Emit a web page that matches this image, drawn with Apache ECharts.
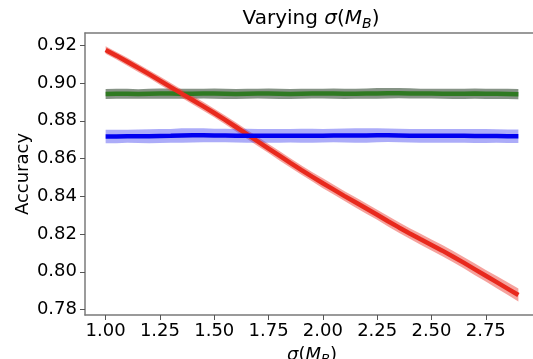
<!DOCTYPE html>
<html>
<head>
<meta charset="utf-8">
<script src="https://cdn.jsdelivr.net/npm/echarts@6/dist/echarts.min.js"></script>
<style>
  html, body { margin: 0; padding: 0; background: #fff; overflow: hidden; }
  #chart { width: 533px; height: 359px; }
</style>
</head>
<body>
<div id="chart"></div>
<script>
// sigma(M_B) values on the x axis
const sigmas = [1.00, 1.05, 1.10, 1.15, 1.20, 1.25, 1.30, 1.35, 1.40, 1.45,
  1.50, 1.55, 1.60, 1.65, 1.70, 1.75, 1.80, 1.85, 1.90, 1.95,
  2.00, 2.05, 2.10, 2.15, 2.20, 2.25, 2.30, 2.35, 2.40, 2.45,
  2.50, 2.55, 2.60, 2.65, 2.70, 2.75, 2.80, 2.85, 2.90];

// mean accuracy per series
const redAcc = [0.9175, 0.9145, 0.9113, 0.9080, 0.9047, 0.9013, 0.8978, 0.8944, 0.8910, 0.8876,
  0.8841, 0.8805, 0.8767, 0.8729, 0.8691, 0.8653, 0.8615, 0.8577, 0.8540, 0.8504,
  0.8469, 0.8435, 0.8401, 0.8368, 0.8335, 0.8302, 0.8268, 0.8235, 0.8203, 0.8172,
  0.8142, 0.8112, 0.8080, 0.8047, 0.8013, 0.7979, 0.7945, 0.7911, 0.7877];
const greenAcc = [0.8942, 0.8943, 0.8943, 0.8942, 0.8943, 0.8944, 0.8944, 0.8943, 0.8943, 0.8944,
  0.8944, 0.8943, 0.8942, 0.8943, 0.8944, 0.8944, 0.8943, 0.8942, 0.8943, 0.8944,
  0.8944, 0.8944, 0.8943, 0.8943, 0.8944, 0.8945, 0.8946, 0.8946, 0.8945, 0.8944,
  0.8944, 0.8943, 0.8943, 0.8943, 0.8944, 0.8943, 0.8943, 0.8942, 0.8941];
const blueAcc = [0.8717, 0.8717, 0.8718, 0.8718, 0.8718, 0.8719, 0.8720, 0.8722, 0.8723, 0.8723,
  0.8722, 0.8722, 0.8721, 0.8721, 0.8720, 0.8720, 0.8720, 0.8721, 0.8721, 0.8721,
  0.8721, 0.8722, 0.8722, 0.8722, 0.8722, 0.8723, 0.8723, 0.8722, 0.8721, 0.8720,
  0.8720, 0.8720, 0.8720, 0.8720, 0.8719, 0.8719, 0.8719, 0.8718, 0.8718];

// half-width of the shaded spread around each series
const redSpread = [0.0020, 0.0020, 0.0021, 0.0021, 0.0021, 0.0022, 0.0022, 0.0022, 0.0023, 0.0023,
  0.0023, 0.0023, 0.0024, 0.0024, 0.0024, 0.0024, 0.0025, 0.0025, 0.0025, 0.0025,
  0.0026, 0.0026, 0.0026, 0.0027, 0.0027, 0.0027, 0.0028, 0.0028, 0.0028, 0.0029,
  0.0029, 0.0030, 0.0030, 0.0030, 0.0031, 0.0031, 0.0032, 0.0033, 0.0034];
const greenSpread = [0.0026, 0.0026, 0.0026, 0.0025, 0.0026, 0.0027, 0.0027, 0.0026, 0.0026, 0.0026,
  0.0027, 0.0027, 0.0026, 0.0026, 0.0026, 0.0027, 0.0027, 0.0026, 0.0026, 0.0026,
  0.0026, 0.0027, 0.0027, 0.0026, 0.0027, 0.0028, 0.0028, 0.0027, 0.0027, 0.0026,
  0.0026, 0.0026, 0.0027, 0.0027, 0.0027, 0.0027, 0.0027, 0.0027, 0.0027];
const blueSpread = [0.0036, 0.0036, 0.0035, 0.0036, 0.0037, 0.0037, 0.0037, 0.0038, 0.0038, 0.0037,
  0.0036, 0.0036, 0.0036, 0.0037, 0.0037, 0.0036, 0.0036, 0.0036, 0.0037, 0.0037,
  0.0036, 0.0036, 0.0037, 0.0038, 0.0038, 0.0037, 0.0036, 0.0036, 0.0036, 0.0037,
  0.0037, 0.0036, 0.0036, 0.0036, 0.0037, 0.0037, 0.0036, 0.0036, 0.0036];

const xTicks = [1.00, 1.25, 1.50, 1.75, 2.00, 2.25, 2.50, 2.75];
const yTicks = [0.78, 0.80, 0.82, 0.84, 0.86, 0.88, 0.90, 0.92];

const FONT = "DejaVu Sans";
const SPINE = "#7a7a7a";
const mathRich = (size) => ({
  a: { fontFamily: FONT, fontSize: size, fontWeight: "normal", color: "#000", lineHeight: size + 4 },
  i: { fontFamily: FONT, fontSize: size, fontWeight: "normal", fontStyle: "italic", color: "#000", lineHeight: size + 4 },
  s: { fontFamily: FONT, fontSize: Math.round(size * 0.7), fontWeight: "normal", fontStyle: "italic", color: "#000",
       verticalAlign: "bottom", lineHeight: Math.round(size * 0.7) },
});

// shaded band drawn once as a polygon through the axis scales
function band(name, mean, spread, fill) {
  return {
    name: name + "-band", type: "custom", silent: true,
    data: sigmas.map((x, i) => [x, mean[i] - spread[i], mean[i] + spread[i]]),
    encode: { x: 0, y: [1, 2] },
    renderItem: (params, api) => {
      if (params.dataIndexInside !== 0) return null;
      const upper = sigmas.map((x, i) => api.coord([x, mean[i] + spread[i]]));
      const lower = sigmas.map((x, i) => api.coord([x, mean[i] - spread[i]])).reverse();
      return {
        type: "polygon",
        shape: { points: upper.concat(lower) },
        style: { fill },
      };
    },
  };
}

function meanLine(name, mean, color) {
  return {
    name, type: "line", symbol: "none", silent: true,
    lineStyle: { color, width: 4.5 },
    data: sigmas.map((x, i) => [x, mean[i]]),
  };
}

const chart = echarts.init(document.getElementById("chart"));

chart.setOption({
  animation: false,
  backgroundColor: "#fff",
  title: {
    text: "{a|Varying }{i|σ}{a|(}{i|M}{s|B}{a|)}",
    left: 311, top: 7, padding: 0, textAlign: "center",
    textStyle: { fontWeight: "normal", rich: mathRich(20) },
  },
  grid: {
    left: 85, right: -6, top: 33, bottom: 44,
    outerBoundsMode: "none", containLabel: false,
  },
  xAxis: [{
    type: "value", min: 0.905, max: 2.995,
    name: "{i|σ}{a|(}{i|M}{s|B}{a|)}",
    nameLocation: "middle", nameGap: 29, nameMoveOverlap: false,
    nameTextStyle: { rich: mathRich(18) },
    axisLine: { show: true, lineStyle: { color: SPINE, width: 1.5 } },
    axisTick: { show: true, length: 5, customValues: xTicks, lineStyle: { color: "#555" } },
    axisLabel: {
      customValues: xTicks, margin: 7,
      fontFamily: FONT, fontSize: 18, color: "#000",
      formatter: (v) => v.toFixed(2),
    },
    splitLine: { show: false },
  }, {
    // top spine only
    type: "value", position: "top", min: 0.905, max: 2.995,
    axisLine: { show: true, onZero: false, lineStyle: { color: SPINE, width: 1.5 } },
    axisTick: { show: false }, axisLabel: { show: false }, splitLine: { show: false },
  }],
  yAxis: {
    type: "value", min: 0.7771, max: 0.9265,
    name: "Accuracy",
    nameLocation: "middle", nameGap: 53, nameMoveOverlap: false,
    nameTextStyle: { fontFamily: FONT, fontSize: 18, color: "#000" },
    axisLine: { show: true, lineStyle: { color: SPINE, width: 1.5 } },
    axisTick: { show: true, length: 5, customValues: yTicks, lineStyle: { color: "#555" } },
    axisLabel: {
      customValues: yTicks, margin: 8,
      fontFamily: FONT, fontSize: 18, color: "#000",
      formatter: (v) => v.toFixed(2),
    },
    splitLine: { show: false },
  },
  series: [
    band("green", greenAcc, greenSpread, "rgba(60,80,60,0.62)"),
    meanLine("green", greenAcc, "#2f7a22"),
    band("red", redAcc, redSpread, "rgba(236,70,60,0.5)"),
    meanLine("red", redAcc, "#e8291d"),
    band("blue", blueAcc, blueSpread, "rgba(70,70,240,0.45)"),
    meanLine("blue", blueAcc, "#0000f0"),
  ],
});
</script>
</body>
</html>
